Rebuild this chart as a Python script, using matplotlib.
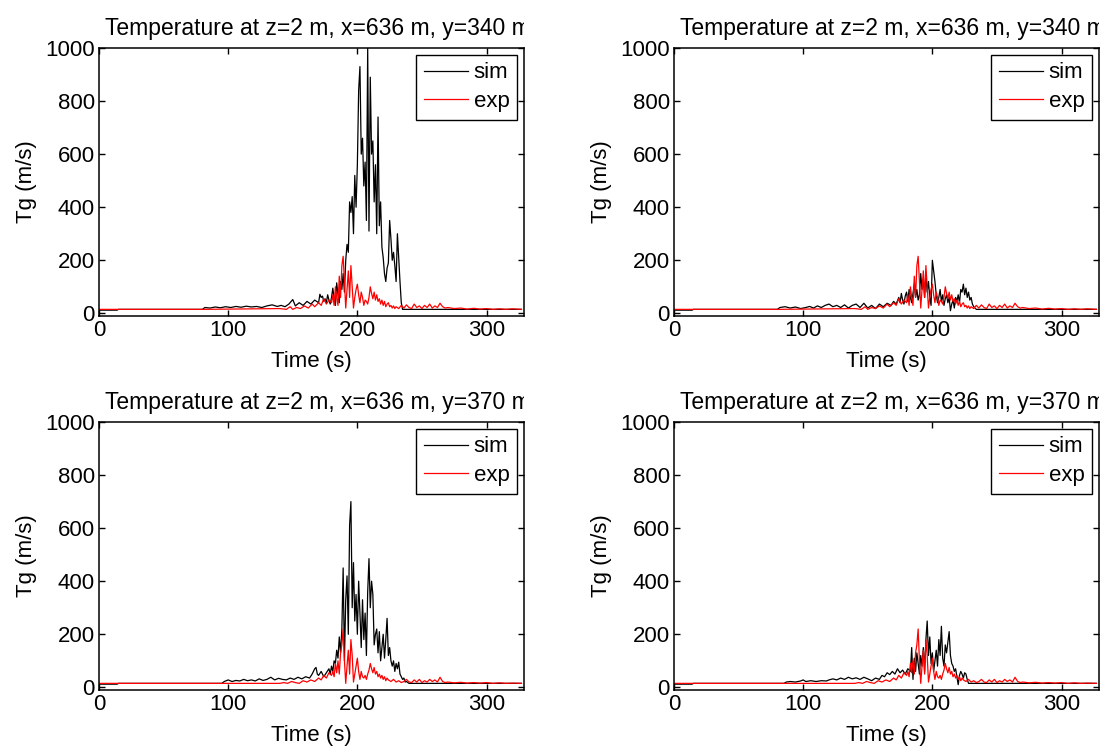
import matplotlib.pyplot as plt
from matplotlib.transforms import Bbox, TransformedBbox

plt.rcParams['font.family'] = ['Liberation Sans', 'DejaVu Sans']
plt.rcParams['font.size'] = 16

# exp data (same probe for both columns)
exp_340_t = [0, 80, 140, 145, 148, 150, 153, 156, 159, 162, 165, 167, 170, 172, 174, 176, 178, 180,
             181, 182, 183, 184, 185, 186, 187, 188, 189, 190, 191, 192, 193, 194, 195, 196, 197, 198,
             199, 200, 201, 202, 203, 204, 205, 206, 207, 208, 209, 210, 211, 212, 213, 214, 215, 216,
             217, 218, 219, 220, 221, 222, 223, 224, 225, 226, 227, 228, 229, 230, 232, 234, 236, 238,
             240, 242, 244, 246, 248, 250, 252, 254, 256, 258, 260, 262, 264, 266, 268, 270, 275, 280,
             285, 290, 295, 300, 305, 310, 315, 320, 327]
exp_340 = [15, 15, 18, 15, 25, 15, 22, 18, 28, 20, 35, 25, 40, 30, 55, 35, 50, 40,
           70, 30, 100, 60, 30, 140, 60, 180, 215, 120, 20, 90, 160, 60, 180, 100, 20, 60,
           90, 110, 70, 40, 80, 60, 30, 50, 45, 35, 60, 100, 75, 55, 80, 50, 70, 45,
           55, 35, 50, 30, 45, 25, 35, 40, 25, 30, 20, 28, 18, 25, 18, 30, 20, 32,
           22, 18, 35, 22, 28, 18, 30, 22, 35, 20, 28, 22, 38, 25, 20, 22, 18, 20,
           16, 19, 16, 18, 15, 17, 15, 17, 15]

exp_370_t = [0, 140, 143, 146, 149, 152, 155, 158, 161, 164, 167, 170, 172, 174, 176, 178, 180, 181,
             182, 183, 184, 185, 186, 187, 188, 189, 190, 191, 192, 193, 194, 195, 196, 197, 198, 199,
             200, 201, 202, 203, 204, 205, 206, 207, 208, 209, 210, 211, 212, 213, 214, 215, 216, 217,
             218, 219, 220, 221, 222, 223, 224, 226, 228, 230, 232, 234, 236, 238, 240, 242, 244, 246,
             248, 250, 252, 254, 256, 258, 260, 262, 264, 266, 268, 270, 275, 280, 285, 290, 295, 300,
             305, 310, 315, 320, 327]
exp_370 = [15, 15, 18, 15, 22, 18, 15, 25, 20, 28, 22, 35, 28, 45, 35, 55, 45, 60,
           40, 90, 55, 100, 50, 130, 160, 220, 100, 15, 80, 140, 50, 180, 120, 20, 50, 80,
           110, 60, 30, 60, 40, 35, 45, 30, 50, 65, 90, 70, 55, 75, 50, 60, 40, 50,
           35, 45, 30, 40, 25, 35, 28, 22, 30, 20, 25, 18, 22, 30, 20, 18, 28, 20,
           30, 18, 25, 20, 30, 22, 28, 20, 38, 22, 18, 20, 17, 19, 16, 18, 16, 18,
           15, 17, 15, 16, 15]

# sim, y=340, left column
sim_340a_t = [0, 14, 15, 80, 82, 86, 90, 94, 98, 102, 106, 110, 114, 118, 122, 126, 130, 134, 138,
              141, 144, 147, 150, 152, 155, 158, 161, 164, 167,
              170, 171, 172, 173, 174, 175, 176, 177, 178, 179, 180, 181, 182, 183, 184, 185, 186, 187,
              188, 189, 190, 191, 192, 193, 194, 195, 196, 197, 198, 199, 200, 201, 202, 203, 204, 205,
              206, 207, 208, 209, 210, 211, 212, 213, 214, 215, 216, 217, 218, 219, 220, 221, 222, 223,
              224, 225, 226, 227, 228, 229, 230, 231, 232, 233, 234, 235, 327]
sim_340a = [12, 12, 15, 15, 22, 20, 24, 21, 25, 22, 26, 23, 27, 24, 26, 22, 28, 32, 26,
            30, 25, 35, 52, 28, 40, 30, 45, 35, 50,
            40, 72, 60, 65, 45, 55, 40, 70, 50, 35, 60, 95, 55, 30, 115, 70, 40, 120,
            90, 150, 80, 200, 260, 230, 420, 380, 440, 300, 520, 400, 560, 840, 930, 600, 660, 480,
            570, 350, 1000, 310, 890, 600, 650, 420, 560, 300, 740, 330, 420, 250, 210, 150, 120, 170,
            190, 350, 280, 200, 230, 180, 120, 300, 210, 120, 40, 15, 15]

# sim, y=340, right column
sim_340b_t = [0, 14, 15, 80, 82, 86, 90, 94, 98, 102, 105, 108, 111, 114, 117, 120, 123, 126, 129,
              132, 135, 138, 141, 144, 147, 150, 153, 156, 159, 162, 165, 168, 170, 172, 174, 175, 176,
              177, 178, 179, 180, 181, 182, 183, 184, 185, 186, 187, 188, 189, 190, 191, 192, 193, 194,
              195, 196, 197, 198, 199, 200, 201, 202, 203, 204, 205, 206, 207, 208, 209, 210, 211, 212,
              213, 214, 215, 216, 217, 218, 219, 220, 221, 222, 223, 224, 225, 226, 227, 228, 229, 230,
              231, 232, 234, 327]
sim_340b = [12, 12, 15, 15, 22, 25, 20, 24, 18, 22, 26, 20, 28, 22, 30, 35, 25, 30, 22,
            32, 20, 30, 35, 22, 38, 20, 30, 18, 35, 25, 38, 30, 45, 35, 60, 40, 75,
            50, 35, 65, 80, 45, 90, 60, 40, 75, 110, 60, 90, 50, 70, 150, 90, 130, 60,
            150, 80, 120, 60, 30, 200, 160, 120, 70, 40, 60, 90, 45, 70, 30, 55, 70, 40,
            60, 10, 35, 50, 20, 60, 45, 70, 40, 90, 80, 110, 70, 95, 60, 80, 50, 60,
            35, 25, 15, 15]

# sim, y=370, left column
sim_370a_t = [0, 14, 15, 95, 97, 100, 103, 106, 109, 112, 115, 118, 121, 124, 127, 130, 133, 136, 139,
              142, 145, 148, 151, 154, 157, 160, 163, 165, 167, 168, 169, 170, 172, 174, 176, 178, 179,
              180, 181, 182, 183, 184, 185, 186, 187, 188, 189, 190, 191, 192, 193, 194, 195, 196, 197,
              198, 199, 200, 201, 202, 203, 204, 205, 206, 207, 208, 209, 210, 211, 212, 213, 214, 215,
              216, 217, 218, 219, 220, 221, 222, 223, 224, 225, 226, 227, 228, 229, 230, 231, 232, 233,
              234, 235, 236, 237, 238, 240, 327]
sim_370a = [12, 12, 15, 15, 22, 28, 22, 26, 24, 30, 25, 28, 24, 32, 26, 30, 38, 28, 34,
            30, 28, 35, 30, 38, 32, 40, 35, 50, 70, 75, 50, 45, 60, 40, 55, 70, 50,
            80, 60, 100, 90, 140, 110, 190, 130, 220, 450, 100, 330, 420, 200, 610, 700, 300, 470,
            250, 350, 200, 400, 280, 150, 330, 180, 280, 120, 360, 485, 300, 400, 350, 160, 200, 220,
            130, 210, 100, 150, 200, 110, 180, 260, 120, 150, 100, 80, 100, 60, 90, 70, 95, 50,
            40, 30, 35, 20, 22, 15, 15]

# sim, y=370, right column
sim_370b_t = [0, 14, 15, 85, 87, 90, 94, 98, 100, 102, 106, 110, 114, 118, 120, 123, 126, 129, 132,
              135, 138, 141, 144, 147, 150, 153, 156, 159, 161, 163, 165, 167, 169, 171, 173, 175, 177,
              179, 181, 183, 184, 185, 186, 187, 188, 189, 190, 191, 192, 193, 194, 195, 196, 197, 198,
              199, 200, 201, 202, 203, 204, 205, 206, 207, 208, 209, 210, 211, 212, 213, 214, 215, 216,
              217, 218, 219, 220, 221, 222, 223, 224, 225, 226, 227, 228, 327]
sim_370b = [12, 12, 15, 15, 20, 22, 20, 24, 28, 22, 25, 22, 25, 24, 28, 32, 28, 35, 30,
            38, 32, 36, 30, 38, 32, 25, 35, 30, 45, 40, 55, 48, 60, 50, 70, 55, 65,
            50, 70, 60, 150, 30, 110, 60, 130, 90, 50, 120, 80, 150, 60, 180, 250, 120, 190,
            90, 130, 60, 100, 140, 80, 180, 120, 230, 110, 80, 160, 130, 170, 210, 120, 90, 80,
            60, 70, 40, 10, 45, 60, 50, 35, 55, 50, 30, 15, 15]

titles = ['Temperature at z=2 m, x=636 m, y=340 m', 'Temperature at z=2 m, x=636 m, y=340 m',
          'Temperature at z=2 m, x=636 m, y=370 m', 'Temperature at z=2 m, x=636 m, y=370 m']
sims = [(sim_340a_t, sim_340a), (sim_340b_t, sim_340b), (sim_370a_t, sim_370a), (sim_370b_t, sim_370b)]
exps = [(exp_340_t, exp_340), (exp_340_t, exp_340), (exp_370_t, exp_370), (exp_370_t, exp_370)]

fig = plt.figure(figsize=(11.02, 7.49), dpi=100)
W, H = 1102, 749
lefts = [99, 674, 99, 674]
tops = [48, 48, 422, 422]
aw, ah = 425, 268

for i in range(4):
    ax = fig.add_axes([lefts[i] / W, (H - tops[i] - ah) / H, aw / W, ah / H])
    ax.plot(sims[i][0], sims[i][1], color='black', lw=0.9, label='sim')
    ax.plot(exps[i][0], exps[i][1], color='red', lw=0.9, label='exp')
    ax.set_xlim(0, 329)
    ax.set_ylim(-10, 1000)
    ax.set_xticks([0, 100, 200, 300])
    ax.set_yticks([0, 200, 400, 600, 800, 1000])
    ax.tick_params(direction='in', top=True, right=True, length=4, width=1, pad=3)
    for s in ax.spines.values():
        s.set_linewidth(1.1)
    ax.set_xlabel('Time (s)', labelpad=7)
    ax.set_ylabel('Tg (m/s)', labelpad=6)
    # title is cut at the right edge of the axes, as in the original export
    t = ax.set_title(titles[i], pad=9, fontsize=16.5, x=0.516)
    t.set_clip_box(TransformedBbox(Bbox([[-0.2, 0], [1.0, 1.5]]), ax.transAxes))
    t.set_clip_on(True)
    leg = ax.legend(loc='upper right', fancybox=False, framealpha=1, edgecolor='black',
                    handlelength=2.0, handletextpad=0.25, borderpad=0.35, labelspacing=0.35,
                    borderaxespad=0.3)
    leg.get_frame().set_linewidth(1.0)

plt.savefig('out.png', dpi=100, facecolor='white')
